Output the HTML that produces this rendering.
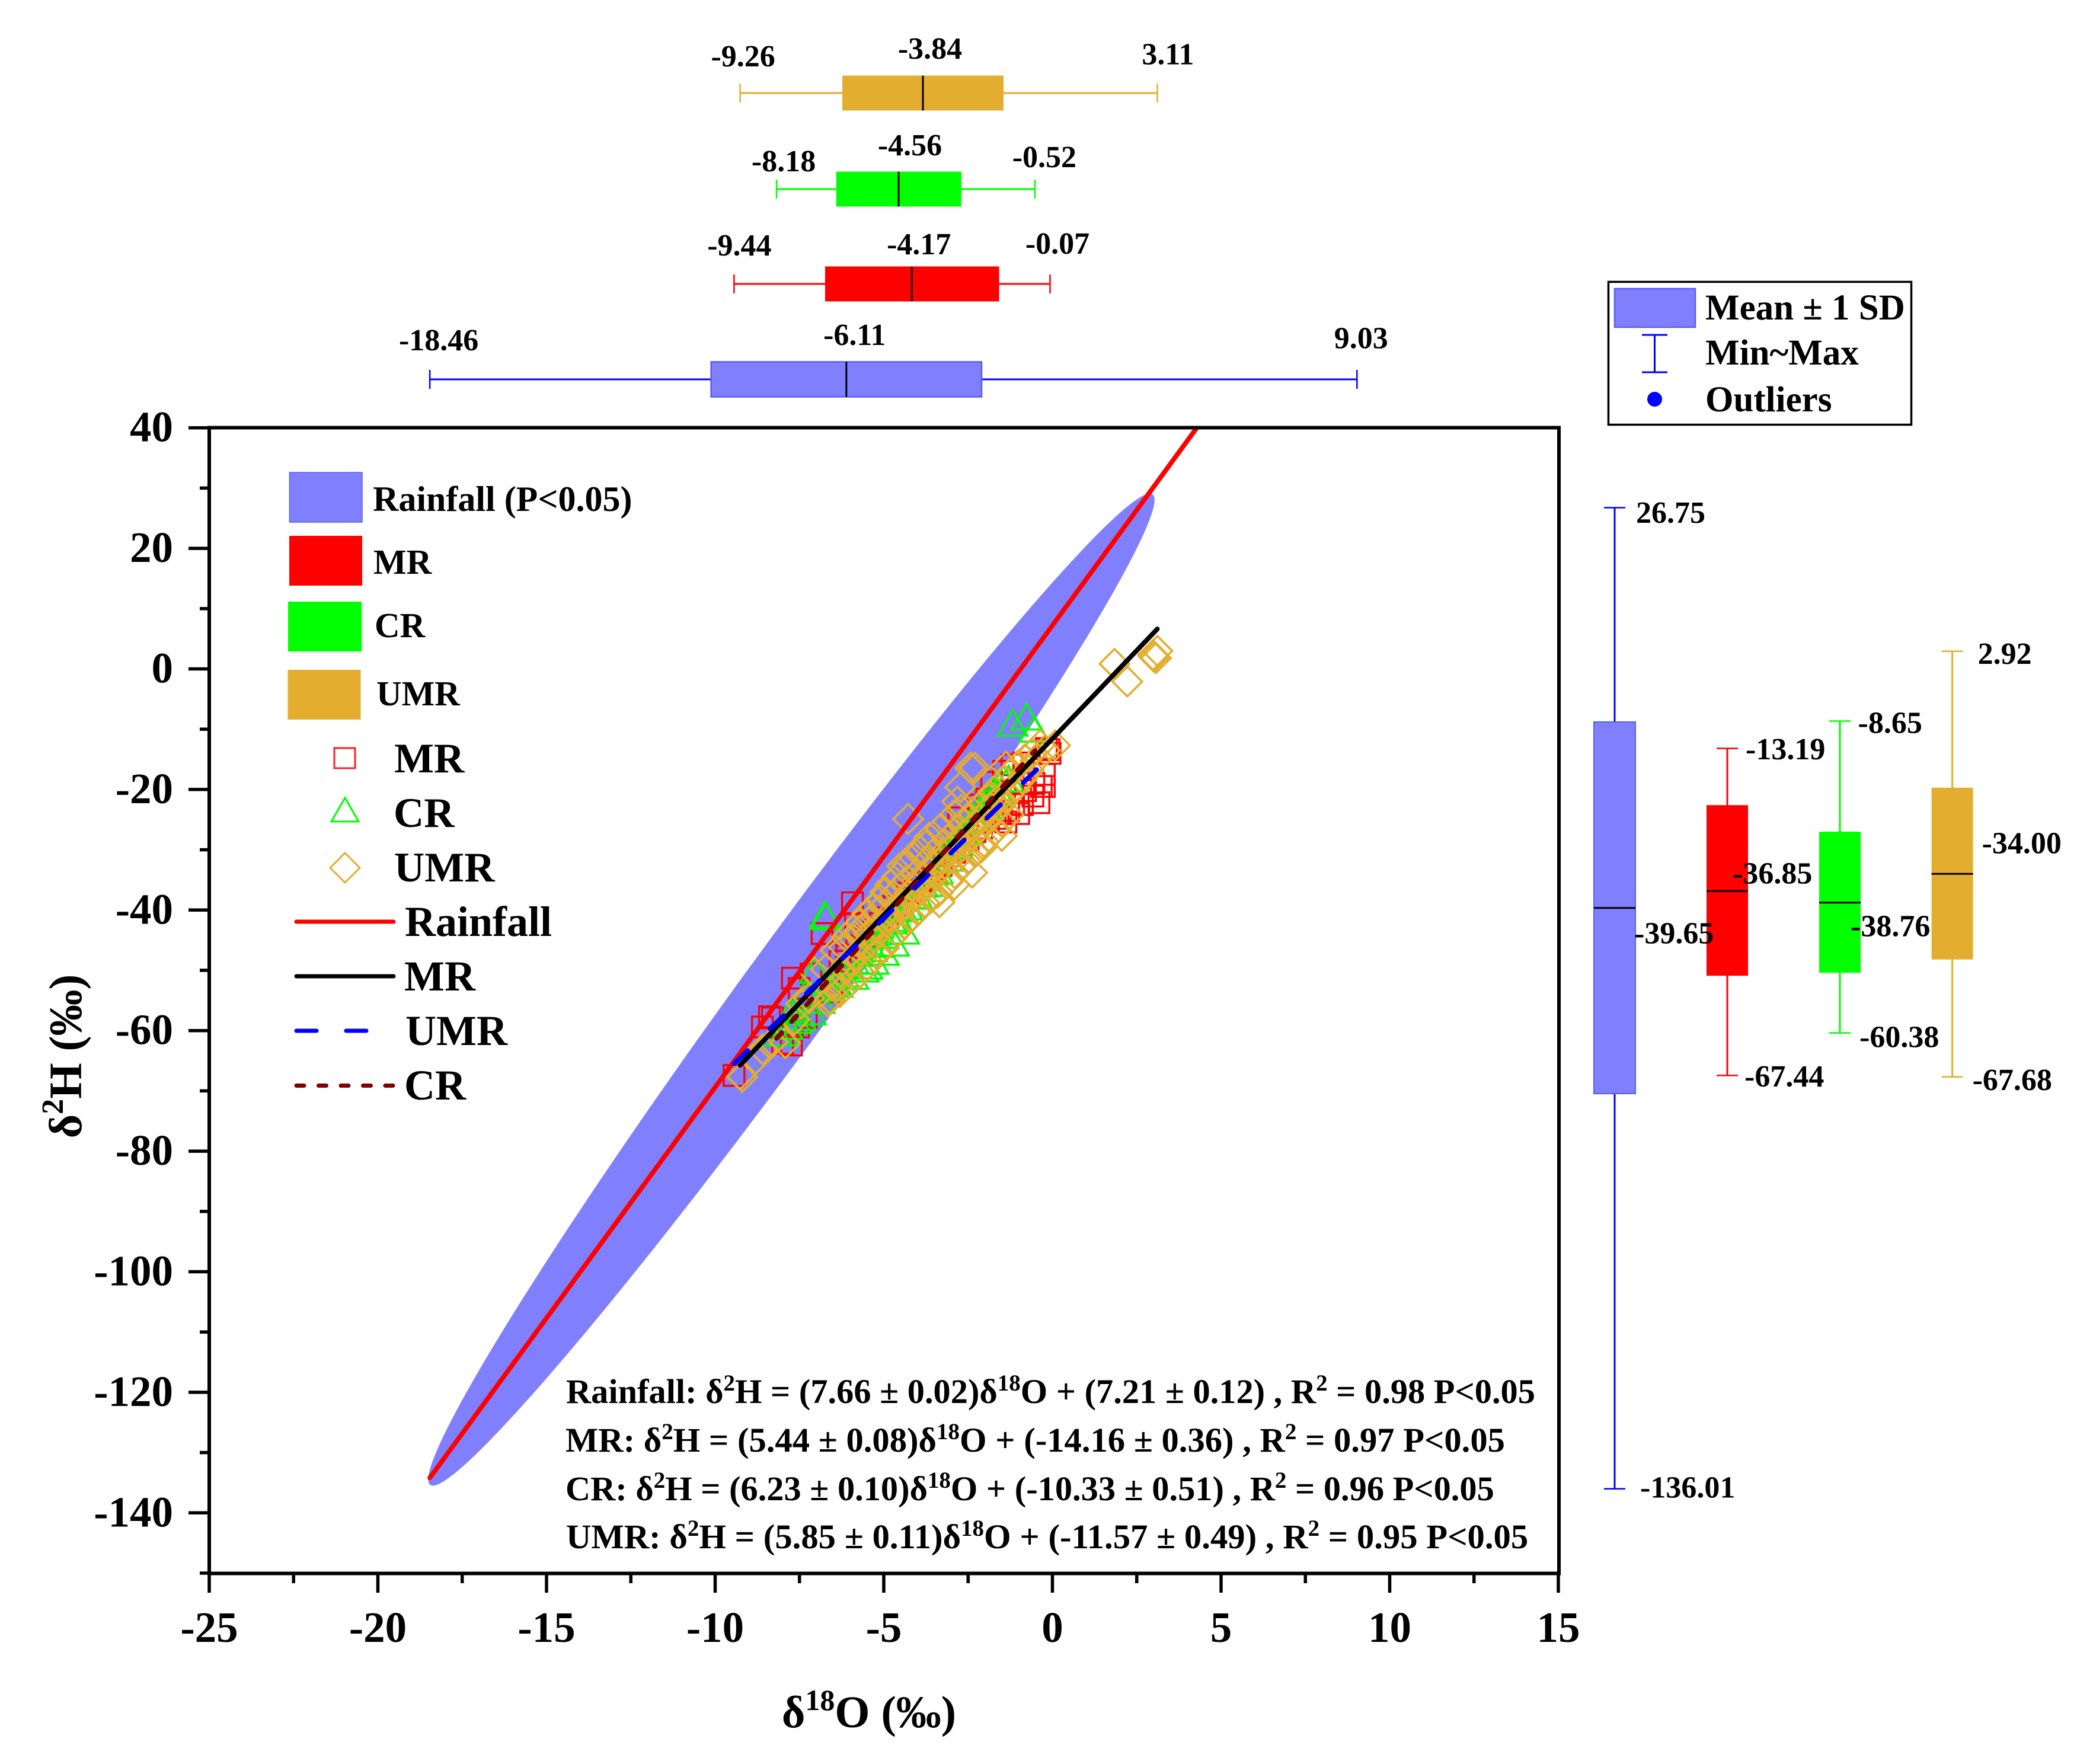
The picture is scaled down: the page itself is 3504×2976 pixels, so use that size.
<!DOCTYPE html>
<html lang="en">
<head>
<meta charset="utf-8">
<title>Isotope scatter chart with marginal box plots</title>
<style>
html,body{margin:0;padding:0;background:#fff;}
svg{display:block;}
text{font-family:"Liberation Serif",serif;font-weight:bold;fill:#000;}
</style>
</head>
<body>
<svg id="chart" xmlns="http://www.w3.org/2000/svg" width="3504" height="2976" viewBox="0 0 3504 2976">
<rect x="0" y="0" width="3504" height="2976" fill="#fff"/>
<defs><clipPath id="plotClip"><rect x="353" y="721" width="2277" height="1934"/></clipPath></defs>
<g id="plotLayer" clip-path="url(#plotClip)"></g>
<g id="axisLayer"></g>
<g id="boxLayer"></g>

<g>
  <rect x="488.5" y="797" width="122.5" height="84" fill="#8080ff" stroke="#5a5af5" stroke-width="1.5"/>
  <rect x="488" y="904" width="123" height="84" fill="#ff0000"/>
  <rect x="486" y="1015" width="124" height="84" fill="#00ff00"/>
  <rect x="485.5" y="1130" width="123" height="84" fill="#e3ae2f"/>
  <text x="629" y="862" font-size="60">Rainfall (P&lt;0.05)</text>
  <text x="630" y="968" font-size="59">MR</text>
  <text x="632" y="1075" font-size="59">CR</text>
  <text x="635" y="1190" font-size="59">UMR</text>
  <rect x="564" y="1262" width="35" height="34" fill="none" stroke="#ff2020" stroke-width="3"/>
  <polygon points="582,1346 605,1386 559,1386" fill="none" stroke="#00ff00" stroke-width="3"/>
  <polygon points="582,1439 607,1464 582,1489 557,1464" fill="none" stroke="#e3ae2f" stroke-width="3"/>
  <text x="665" y="1303" font-size="71">MR</text>
  <text x="664" y="1395" font-size="71">CR</text>
  <text x="665" y="1487" font-size="71">UMR</text>
  <line x1="500" y1="1555" x2="664" y2="1555" stroke="#ff0000" stroke-width="7" stroke-linecap="round"/>
  <line x1="500" y1="1647" x2="664" y2="1647" stroke="#000" stroke-width="7" stroke-linecap="round"/>
  <line x1="500" y1="1739" x2="620" y2="1739" stroke="#0000ff" stroke-width="7" stroke-linecap="round" stroke-dasharray="34 50"/>
  <line x1="500" y1="1831.5" x2="664" y2="1831.5" stroke="#800000" stroke-width="7" stroke-linecap="round" stroke-dasharray="13 24.5"/>
  <text x="683" y="1579" font-size="72">Rainfall</text>
  <text x="682" y="1671" font-size="72">MR</text>
  <text x="684" y="1763" font-size="72">UMR</text>
  <text x="682" y="1855" font-size="72">CR</text>
</g>

<g>
  <rect x="2713.5" y="475.5" width="511" height="241" fill="#fff" stroke="#000" stroke-width="3.5"/>
  <rect x="2724" y="487" width="136" height="65" fill="#8080ff" stroke="#5a5af5" stroke-width="2.5"/>
  <line x1="2791.5" y1="564" x2="2791.5" y2="628" stroke="#0000ff" stroke-width="3"/>
  <line x1="2770" y1="565" x2="2813" y2="565" stroke="#0000ff" stroke-width="3"/>
  <line x1="2770" y1="628" x2="2813" y2="628" stroke="#0000ff" stroke-width="3"/>
  <circle cx="2791.5" cy="673.5" r="12.5" fill="#0000ff"/>
  <text x="2877" y="539" font-size="61">Mean ± 1 SD</text>
  <text x="2877" y="615" font-size="61">Min~Max</text>
  <text x="2877" y="694" font-size="61">Outliers</text>
</g>

<g>
  <text x="955" y="2367" font-size="58.4">Rainfall: δ<tspan font-size="39" dy="-21">2</tspan><tspan dy="21">H = (7.66 ± 0.02)δ</tspan><tspan font-size="39" dy="-21">18</tspan><tspan dy="21">O + (7.21 ± 0.12) , R</tspan><tspan font-size="39" dy="-21">2</tspan><tspan dy="21"> = 0.98 P&lt;0.05</tspan></text>
  <text x="954" y="2449" font-size="58.6">MR: δ<tspan font-size="39" dy="-21">2</tspan><tspan dy="21">H = (5.44 ± 0.08)δ</tspan><tspan font-size="39" dy="-21">18</tspan><tspan dy="21">O + (-14.16 ± 0.36) , R</tspan><tspan font-size="39" dy="-21">2</tspan><tspan dy="21"> = 0.97 P&lt;0.05</tspan></text>
  <text x="954" y="2531" font-size="58.4">CR: δ<tspan font-size="39" dy="-21">2</tspan><tspan dy="21">H = (6.23 ± 0.10)δ</tspan><tspan font-size="39" dy="-21">18</tspan><tspan dy="21">O + (-10.33 ± 0.51) , R</tspan><tspan font-size="39" dy="-21">2</tspan><tspan dy="21"> = 0.96 P&lt;0.05</tspan></text>
  <text x="955" y="2612" font-size="58.7">UMR: δ<tspan font-size="39" dy="-21">2</tspan><tspan dy="21">H = (5.85 ± 0.11)δ</tspan><tspan font-size="39" dy="-21">18</tspan><tspan dy="21">O + (-11.57 ± 0.49) , R</tspan><tspan font-size="39" dy="-21">2</tspan><tspan dy="21"> = 0.95 P&lt;0.05</tspan></text>
</g>

<text x="1466" y="2914" font-size="76" text-anchor="middle">δ<tspan font-size="50" dy="-29">18</tspan><tspan dy="29">O (‰)</tspan></text>
<text transform="translate(137,1782) rotate(-90)" font-size="78" text-anchor="middle">δ<tspan font-size="52" dy="-31">2</tspan><tspan dy="31">H (‰)</tspan></text>
</svg>

<script>
/* ---------- axis data ---------- */
const xTickValues = [-25, -20, -15, -10, -5, 0, 5, 10, 15];
const xMinorValues = [-22.5, -17.5, -12.5, -7.5, -2.5, 2.5, 7.5, 12.5];
const yTickValues = [40, 20, 0, -20, -40, -60, -80, -100, -120, -140];
const yMinorValues = [30, 10, -10, -30, -50, -70, -90, -110, -130, -150];

/* ---------- scatter data: [d18O, d2H] ---------- */
const mrPoints = [[-9.44,-67.44],[-8.6,-59.4],[-8.39,-57.7],[-8.3,-57.9],[-8.0,-62.1],[-7.74,-62.4],[-7.71,-59.4],[-7.71,-51.3],[-7.53,-59.4],[-7.51,-53],[-7.3,-57.9],[-7.16,-50.6],[-6.83,-43.9],[-6.55,-53.5],[-5.93,-38.8],[-5.84,-42.4],[-6.3,-48.5],[-6.1,-47.6],[-5.8,-46.2],[-5.5,-44.4],[-5.3,-43.5],[-5.1,-42.2],[-4.9,-41.3],[-4.7,-39.4],[-4.5,-39.1],[-4.3,-37.2],[-4.1,-36.8],[-3.9,-35.2],[-3.7,-34.9],[-3.5,-33.2],[-3.3,-32.6],[-3.1,-31],[-2.9,-30.4],[-2.7,-29.2],[-2.5,-28.4],[-2.3,-27],[-2.1,-26.4],[-1.9,-25.2],[-1.7,-24.8],[-1.55,-24],[-2.78,-24.7],[-2.2,-22.6],[-1.95,-21.6],[-1.8,-18.8],[-1.45,-17],[-1.38,-25.4],[-1.3,-23.5],[-1.2,-15.9],[-1.15,-22.4],[-1.0,-24],[-0.89,-22.5],[-0.85,-15.6],[-0.8,-20.2],[-0.58,-21.1],[-0.55,-19],[-0.4,-22.2],[-0.33,-19.5],[-0.24,-17.5],[-0.24,-19.5],[-0.18,-13.2],[-0.1,-13.4],[-0.07,-14]];
const crPoints = [[-8.18,-60.4],[-7.97,-60.4],[-7.85,-59.3],[-7.7,-56.5],[-7.6,-58.3],[-7.45,-57.8],[-7.3,-53.8],[-7.16,-56.9],[-7.04,-50],[-6.9,-55],[-6.74,-40.8],[-6.72,-41.1],[-6.6,-53],[-6.45,-52.2],[-6.37,-52.3],[-6.2,-50.6],[-6.05,-49],[-5.9,-51],[-5.9,-48.4],[-5.75,-47.2],[-5.6,-49.8],[-5.49,-49.3],[-5.35,-46.4],[-5.3,-48.5],[-5.2,-45.7],[-5.05,-44.2],[-5,-47],[-4.9,-43.6],[-4.75,-41.8],[-4.7,-45.5],[-4.6,-41.4],[-4.45,-39.8],[-4.4,-43.5],[-4.3,-39.5],[-4.15,-37.6],[-4.0,-37.7],[-3.85,-35.7],[-3.7,-35.6],[-3.55,-33.7],[-3.4,-33.5],[-3.25,-31.6],[-3.1,-31.4],[-2.95,-29.4],[-2.8,-29.3],[-2.65,-26.8],[-2.5,-27],[-2.35,-24.7],[-2.2,-24.8],[-2.05,-22.4],[-1.9,-22.7],[-1.75,-20.3],[-1.6,-20.5],[-1.45,-18.3],[-1.3,-18.2],[-1.18,-9],[-0.77,-8],[-0.54,-10]];
const umrPoints = [[-9.26,-67.3],[-9.2,-67.7],[-8.8,-64.7],[-8.59,-63.1],[-8.3,-61.9],[-7.92,-62.1],[-7.65,-58.2],[-7.45,-55.5],[-7.22,-54.6],[-7.07,-50.3],[-6.9,-53.8],[-6.72,-49.8],[-6.65,-55.2],[-6.55,-52.4],[-6.42,-46.7],[-6.37,-52.6],[-6.28,-50.3],[-6.18,-46.2],[-6.08,-49.5],[-6.0,-48.4],[-5.88,-44.9],[-5.8,-47.6],[-5.72,-43.4],[-5.6,-46.2],[-5.5,-45.8],[-5.42,-41.9],[-5.3,-44.5],[-5.21,-40.6],[-5.12,-43.3],[-5.02,-39.4],[-4.9,-42.1],[-4.82,-41.5],[-4.7,-37.6],[-4.58,-40.3],[-4.52,-36.4],[-4.4,-39.4],[-4.3,-35],[-4.28,-24.9],[-4.18,-38.3],[-4.1,-37.5],[-4.02,-33.9],[-3.9,-36.5],[-3.78,-35.9],[-3.72,-31.9],[-3.65,-28],[-3.6,-35],[-3.48,-34.1],[-3.42,-30],[-3.35,-38.7],[-3.3,-33],[-3.2,-32.4],[-3.12,-28.4],[-3.0,-31.2],[-2.91,-35.8],[-2.88,-30.6],[-2.82,-22],[-2.78,-26.5],[-2.73,-19.6],[-2.68,-29.5],[-2.6,-28.8],[-2.52,-24.8],[-2.43,-16.4],[-2.4,-27.8],[-2.38,-16.7],[-2.38,-33.8],[-2.3,-16.4],[-2.28,-27],[-2.2,-23],[-2.1,-26],[-2.03,-28.7],[-2.0,-25.2],[-1.88,-21.5],[-1.8,-24.1],[-1.72,-20.2],[-1.6,-23],[-1.5,-27.7],[-1.48,-22.1],[-1.42,-18.5],[-1.38,-16.2],[-1.3,-20.9],[-1.22,-17.2],[-1.1,-19.6],[-1.02,-16],[-0.9,-18.2],[-0.82,-15],[-0.7,-16.8],[-0.6,-14],[-0.5,-15.2],[-0.36,-12.6],[-0.22,-13.5],[0.08,-12.7],[1.84,0.84],[2.22,-2.1],[2.98,2.3],[3.01,2],[3.07,1.8],[3.11,3],[-6.1,-44.5],[-5.9,-43.3],[-5.7,-42.1],[-5.5,-40.6],[-5.3,-39.7],[-5.1,-38.3],[-4.95,-37],[-4.8,-35.8],[-4.6,-34.5],[-4.45,-32.7],[-4.3,-32.5],[-4.1,-31.3],[-3.95,-30],[-3.75,-29.3],[-3.3,-26.5],[-3.1,-25.3],[-2.9,-24.2],[-2.7,-23.4],[-6.6,-54.7],[-6.3,-53.6],[-6,-52],[-5.7,-50.4],[-5.5,-49.2],[-5.2,-47.1],[-5,-46.3],[-4.8,-44.8],[-4.6,-43.6],[-4.4,-42.3],[-4.2,-41.3],[-4,-40.1],[-3.8,-38.8],[-3.6,-38],[-3.4,-37.1],[-3.1,-35.3],[-2.9,-33.9],[-2.7,-32.6],[-2.5,-31.6],[-2.3,-30.4],[-2.1,-29.6],[-1.9,-27.9],[-1.7,-26.8],[-1.5,-25.4],[-1.3,-24.2],[-5.45,-44],[-5.15,-42.8],[-4.85,-40.9],[-4.55,-39],[-4.25,-37.4],[-3.95,-35.6],[-3.65,-33.8],[-3.35,-32.2],[-3.05,-30.3],[-2.75,-28.6],[-2.45,-26.8],[-2.15,-25],[-1.85,-23.1],[-1.55,-21.5]];

/* ---------- rainfall ellipse: centre and axis extents in data units ---------- */
const ellipseCentre = [-7.74, -53.2];
const ellipseMajor = [10.63, 82.3];
const ellipseMinorX = [1.72];

/* ---------- regression lines: [slope, intercept] and [xStart, xEnd] ---------- */
const rainfallFit = [7.66, 7.21];
const rainfallRange = [-18.46, 9.03];
const blackFit = [5.85, -11.57];
const blackRange = [-9.26, 3.11];
const blueFit = [5.44, -14.16];
const blueRange = [-9.44, -0.07];
const darkRedFit = [6.23, -10.33];
const darkRedRange = [-8.18, -0.52];

/* ---------- box statistics ---------- */
const boxGroups = ['rainfall', 'mr', 'cr', 'umr'];
const o18Min = [-18.46, -9.44, -8.18, -9.26];
const o18Q1 = [-10.12, -6.74, -6.41, -6.23];
const o18Median = [-6.11, -4.17, -4.56, -3.84];
const o18Q3 = [-2.10, -1.58, -2.70, -1.45];
const o18Max = [9.03, -0.07, -0.52, 3.11];
const h2Min = [-136.01, -67.44, -60.38, -67.68];
const h2Q1 = [-70.45, -50.9, -50.4, -48.2];
const h2Median = [-39.65, -36.85, -38.76, -34.00];
const h2Q3 = [-8.8, -22.6, -27.0, -19.7];
const h2Max = [26.75, -13.19, -8.65, 2.92];

/* ---------- scales ---------- */
const sx = v => 353 + (v + 25) * 56.9;
const sy = v => 2654 - (v + 150) * 10.17;

const NS = 'http://www.w3.org/2000/svg';
const plotLayer = document.getElementById('plotLayer');
const axisLayer = document.getElementById('axisLayer');
const boxLayer = document.getElementById('boxLayer');

function mk(tag, attrs, parent) {
  const el = document.createElementNS(NS, tag);
  for (const k in attrs) el.setAttribute(k, attrs[k]);
  parent.appendChild(el);
  return el;
}

/* ---------- rainfall ellipse ---------- */
function drawEllipse() {
  let pts = [];
  for (let i = 0; i < 180; i++) {
    const t = i / 180 * Math.PI * 2;
    const dx = ellipseCentre[0] + ellipseMajor[0] * Math.cos(t) + ellipseMinorX[0] * Math.sin(t);
    const dy = ellipseCentre[1] + ellipseMajor[1] * Math.cos(t);
    pts.push(sx(dx).toFixed(1) + ',' + sy(dy).toFixed(1));
  }
  const el = mk('polygon', { points: pts.join(' '), fill: '#8080ff' }, plotLayer);
  
  
}

/* ---------- scatter ---------- */
function drawSquares() {
  mrPoints.forEach(p => {
    const el = mk('rect', { x: sx(p[0]) - 17.5, y: sy(p[1]) - 17.5, width: 35, height: 35, fill: 'none', stroke: '#ff0000', 'stroke-width': 3.4 }, plotLayer);
    
    
  });
}
function drawTriangles() {
  crPoints.forEach(p => {
    const x = sx(p[0]), y = sy(p[1]);
    const pts = [[x, y - 22], [x + 25, y + 21], [x - 25, y + 21]].map(a => a.join(',')).join(' ');
    const el = mk('polygon', { points: pts, fill: 'none', stroke: '#00ff00', 'stroke-width': 3.4 }, plotLayer);
    
    
  });
}
function drawDiamonds() {
  umrPoints.forEach(p => {
    const x = sx(p[0]), y = sy(p[1]);
    const pts = [[x, y - 25], [x + 25, y], [x, y + 25], [x - 25, y]].map(a => a.join(',')).join(' ');
    const el = mk('polygon', { points: pts, fill: 'none', stroke: '#e3ae2f', 'stroke-width': 3.6 }, plotLayer);
    
    
  });
}

/* ---------- fit lines ---------- */
function fitLine(fit, range, color, dash) {
  const attrs = {
    x1: sx(range[0]), y1: sy(fit[0] * range[0] + fit[1]),
    x2: sx(range[1]), y2: sy(fit[0] * range[1] + fit[1]),
    stroke: color, 'stroke-width': 8, 'stroke-linecap': 'round'
  };
  if (dash) attrs['stroke-dasharray'] = dash;
  return mk('line', attrs, plotLayer);
}
function drawLines() {
  const rain = fitLine(rainfallFit, rainfallRange, '#ff0000');
  
  
  const black = fitLine(blackFit, blackRange, '#000000');
  
  
  const dark = fitLine(darkRedFit, darkRedRange, '#800000', '13 25');
  
  
  const blue = fitLine(blueFit, blueRange, '#0000ff', '32 53');
  
  
}

/* ---------- axes ---------- */
function drawAxes() {
  const frame = mk('rect', { x: 353, y: 721.5, width: 2277, height: 1933, fill: 'none', stroke: '#000', 'stroke-width': 6 }, axisLayer);
  
  

  xTickValues.forEach(v => {
    const t = mk('line', { x1: sx(v), y1: 2654, x2: sx(v), y2: 2687, stroke: '#000', 'stroke-width': 5.5 }, axisLayer);
    
    
    const l = mk('text', { x: sx(v), y: 2770, 'font-size': 73, 'text-anchor': 'middle' }, axisLayer);
    l.textContent = String(v);
    
    
  });
  xMinorValues.forEach(v => {
    const t = mk('line', { x1: sx(v), y1: 2654, x2: sx(v), y2: 2671, stroke: '#000', 'stroke-width': 5.5 }, axisLayer);
    
    
  });
  yTickValues.forEach(v => {
    const t = mk('line', { x1: 318, y1: sy(v), x2: 353, y2: sy(v), stroke: '#000', 'stroke-width': 5.5 }, axisLayer);
    
    
    const l = mk('text', { x: 292, y: sy(v) + 23, 'font-size': 73, 'text-anchor': 'end' }, axisLayer);
    l.textContent = String(v);
    
    
  });
  yMinorValues.forEach(v => {
    const t = mk('line', { x1: 337, y1: sy(v), x2: 353, y2: sy(v), stroke: '#000', 'stroke-width': 5.5 }, axisLayer);
    
    
  });
}

/* ---------- box plots ---------- */
function colorOf(i) { return ['#0000ff', '#ff0000', '#00ff00', '#e3ae2f'][i]; }
function fillOf(i) { return ['#8080ff', '#ff0000', '#00ff00', '#e3ae2f'][i]; }

function label(value, x, y, anchor) {
  const t = mk('text', { x: x, y: y, 'font-size': 52, 'text-anchor': anchor }, boxLayer);
  t.textContent = value.toFixed(2);
  
  
}

function drawTopBoxes() {
  const rows = [640, 479, 319, 157];
  const offs = [
    [[15, -49], [14, -58], [7, -52.5]],
    [[9, -48], [12, -50], [12.5, -51]],
    [[12, -30], [19, -57], [16, -37]],
    [[5, -45], [12, -58], [18, -48.5]]
  ];
  boxGroups.forEach((name, i) => {
    const yc = rows[i], c = colorOf(i);
    const w = mk('line', { x1: sx(o18Min[i]), y1: yc, x2: sx(o18Max[i]), y2: yc, stroke: c, 'stroke-width': 3 }, boxLayer);
    
    
    const c1 = mk('line', { x1: sx(o18Min[i]), y1: yc - 16, x2: sx(o18Min[i]), y2: yc + 16, stroke: c, 'stroke-width': 2.5 }, boxLayer);
    
    
    const c2 = mk('line', { x1: sx(o18Max[i]), y1: yc - 16, x2: sx(o18Max[i]), y2: yc + 16, stroke: c, 'stroke-width': 2.5 }, boxLayer);
    
    
    const attrs = { x: sx(o18Q1[i]), y: yc - 29.5, width: sx(o18Q3[i]) - sx(o18Q1[i]), height: 59, fill: fillOf(i) };
    if (i === 0) { attrs.stroke = '#5a5af5'; attrs['stroke-width'] = 2.5; }
    const b = mk('rect', attrs, boxLayer);
    
    
    const m = mk('line', { x1: sx(o18Median[i]), y1: yc - 29.5, x2: sx(o18Median[i]), y2: yc + 29.5, stroke: '#000', 'stroke-width': 3 }, boxLayer);
    
    
    label(o18Min[i], sx(o18Min[i]) + offs[i][0][0], yc + offs[i][0][1], 'middle');
    label(o18Median[i], sx(o18Median[i]) + offs[i][1][0], yc + offs[i][1][1], 'middle');
    label(o18Max[i], sx(o18Max[i]) + offs[i][2][0], yc + offs[i][2][1], 'middle');
  });
}

function drawRightBoxes() {
  const cols = [2724, 2914, 3104, 3293.6];
  const offs = [
    [[36, 25.5], [33, 60], [43, 15]],
    [[31, 18.4], [9, -12.6], [29, 18.6]],
    [[30.5, 20], [18, 56.7], [33, 24]],
    [[43, 21], [50, -35], [34, 22]]
  ];
  boxGroups.forEach((name, i) => {
    const xc = cols[i], c = colorOf(i);
    const w = mk('line', { x1: xc, y1: sy(h2Min[i]), x2: xc, y2: sy(h2Max[i]), stroke: c, 'stroke-width': 3 }, boxLayer);
    
    
    const c1 = mk('line', { x1: xc - 18, y1: sy(h2Min[i]), x2: xc + 18, y2: sy(h2Min[i]), stroke: c, 'stroke-width': 2.5 }, boxLayer);
    
    
    const c2 = mk('line', { x1: xc - 18, y1: sy(h2Max[i]), x2: xc + 18, y2: sy(h2Max[i]), stroke: c, 'stroke-width': 2.5 }, boxLayer);
    
    
    const attrs = { x: xc - 35, y: sy(h2Q3[i]), width: 70, height: sy(h2Q1[i]) - sy(h2Q3[i]), fill: fillOf(i) };
    if (i === 0) { attrs.stroke = '#5a5af5'; attrs['stroke-width'] = 2; }
    const b = mk('rect', attrs, boxLayer);
    
    
    const m = mk('line', { x1: xc - 35, y1: sy(h2Median[i]), x2: xc + 35, y2: sy(h2Median[i]), stroke: '#000', 'stroke-width': 3 }, boxLayer);
    
    
  });
  boxGroups.forEach((name, i) => {
    const xc = cols[i];
    label(h2Max[i], xc + offs[i][0][0], sy(h2Max[i]) + offs[i][0][1], 'start');
    label(h2Median[i], xc + offs[i][1][0], sy(h2Median[i]) + offs[i][1][1], 'start');
    label(h2Min[i], xc + offs[i][2][0], sy(h2Min[i]) + offs[i][2][1], 'start');
  });
}

drawEllipse();
drawSquares();
drawTriangles();
drawDiamonds();
drawLines();
drawAxes();
drawTopBoxes();
drawRightBoxes();
</script>
</body>
</html>
